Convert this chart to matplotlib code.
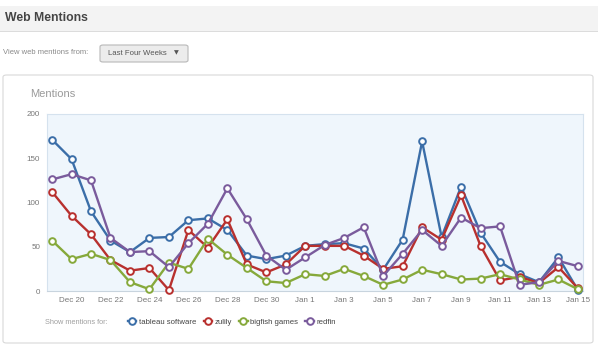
import numpy as np
import matplotlib.pyplot as plt
from matplotlib.patches import FancyBboxPatch

# daily mention counts, Dec 19 .. Jan 15
days = ['Dec 19', 'Dec 20', 'Dec 21', 'Dec 22', 'Dec 23', 'Dec 24', 'Dec 25',
        'Dec 26', 'Dec 27', 'Dec 28', 'Dec 29', 'Dec 30', 'Dec 31', 'Jan 1',
        'Jan 2', 'Jan 3', 'Jan 4', 'Jan 5', 'Jan 6', 'Jan 7', 'Jan 8', 'Jan 9',
        'Jan 10', 'Jan 11', 'Jan 12', 'Jan 13', 'Jan 14', 'Jan 15']
tableau = [171, 149, 90, 57, 44, 60, 61, 80, 82, 69, 40, 36, 40, 51,
           53, 54, 48, 24, 58, 169, 61, 118, 66, 33, 19, 10, 38, 1]
zulily = [112, 85, 64, 35, 23, 26, 1, 69, 49, 81, 30, 21, 30, 51,
          51, 51, 40, 25, 28, 72, 58, 108, 51, 12, 16, 9, 27, 3]
bigfish = [57, 36, 42, 35, 10, 2, 32, 25, 59, 41, 26, 11, 9, 19,
           17, 25, 17, 7, 13, 24, 19, 13, 14, 19, 13, 7, 13, 2]
redfin = [126, 132, 125, 60, 44, 45, 27, 54, 76, 116, 81, 40, 24, 38,
          52, 60, 72, 17, 42, 69, 51, 83, 71, 73, 7, 10, 34, 28]

series = [('tableau software', tableau, '#3b6ea8'),
          ('zulily', zulily, '#b8302e'),
          ('bigfish games', bigfish, '#86a93b'),
          ('redfin', redfin, '#7a5b9c')]

W, H = 598, 352
fig = plt.figure(figsize=(W / 100, H / 100), dpi=100)
fig.patch.set_facecolor('white')
plt.rcParams['font.family'] = ['Liberation Sans', 'DejaVu Sans']


def fx(px):
    return px / W


def fy(py):
    return 1 - py / H


def add_box(x0, y0, x1, y1, **kw):
    # rectangle given in picture pixels (top-left origin), drawn under the axes
    kw.setdefault('boxstyle', 'square,pad=0')
    p = FancyBboxPatch((fx(x0), fy(y1)), fx(x1) - fx(x0), fy(y0) - fy(y1),
                       transform=fig.transFigure, zorder=-5, **kw)
    fig.patches.append(p)


# page header band
add_box(0, 6, W, 31, facecolor='#f3f3f3', edgecolor='none')
add_box(0, 31, W, 32, facecolor='#dcdcdc', edgecolor='none')
fig.text(fx(5), fy(18), 'Web Mentions', fontsize=8.8, fontweight='bold', color='#444444', va='center')

# selector row
fig.text(fx(3), fy(53), 'View web mentions from:', fontsize=5.5, color='#8a8a8a', va='center')
add_box(100, 45, 188, 62, boxstyle='round,pad=0,rounding_size=0.005',
        facecolor='#ececec', edgecolor='#b8b8b8', lw=0.8)
fig.text(fx(108), fy(53.5), 'Last Four Weeks', fontsize=5.6, color='#555555', va='center')
fig.text(fx(176), fy(53), '\u25bc', fontsize=4.5, color='#555555', va='center', ha='center',
         family=['DejaVu Sans'])

# chart panel
add_box(3, 75, 593, 343, boxstyle='round,pad=0,rounding_size=0.006',
        facecolor='white', edgecolor='#d9d9d9', lw=0.8)
fig.text(fx(30), fy(94), 'Mentions', fontsize=8, color='#9a9a9a', va='center')

ax = fig.add_axes([fx(47), fy(291), fx(583) - fx(47), fy(114) - fy(291)])
ax.set_facecolor('#eff6fc')
x = np.arange(len(days))
for name, vals, col in series:
    ax.plot(x, vals, '-o', color=col, lw=1.7, ms=4.8, mfc='white', mec=col, mew=1.4,
            label=name, clip_on=False, zorder=3)

ax.set_xlim(-0.26, len(days) - 1 + 0.26)
ax.set_ylim(0, 200)
ax.set_yticks([0, 50, 100, 150, 200])
ax.set_xticks(x[1::2])
ax.set_xticklabels(days[1::2])
ax.tick_params(length=0, labelsize=5.8, colors='#777777', pad=4)
ax.tick_params(axis='y', pad=5)
for s in ax.spines.values():
    s.set_color('#d5e2ee')
    s.set_linewidth(0.8)
ax.spines['bottom'].set_color('#c8d4de')

# legend row
fig.text(fx(45), fy(322), 'Show mentions for:', fontsize=5.3, color='#a0a0a0', va='center')
fig.legend(loc='center left', bbox_to_anchor=(fx(124), fy(322)), ncol=4, frameon=False,
           fontsize=5.6, handlelength=1.1, handletextpad=0.35, columnspacing=0.9,
           borderpad=0, labelcolor='#444444')

fig.savefig('out.png', dpi=100)
